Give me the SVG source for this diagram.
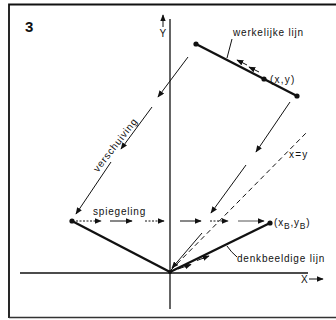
<svg xmlns="http://www.w3.org/2000/svg" width="336" height="320" viewBox="0 0 336 320">
<defs>
<style>
text{font-family:"Liberation Sans",Arial,sans-serif;fill:#111;font-size:10px;letter-spacing:0.8px}
.thin{stroke:#111;stroke-width:1;fill:none}
.thick{stroke:#111;stroke-width:2.4;fill:none}
.dot{stroke:#111;stroke-width:1;fill:none;stroke-dasharray:2 1.5}
.dash{stroke:#111;stroke-width:1;fill:none;stroke-dasharray:5 3.5}
.arr{marker-end:url(#ah)}
</style>
<marker id="ah" viewBox="0 0 10 8" refX="9" refY="4" markerWidth="7" markerHeight="5.6" markerUnits="userSpaceOnUse" orient="auto">
<path d="M0,0 L10,4 L0,8 Z" fill="#111"/>
</marker>
</defs>
<rect width="336" height="320" fill="#fff"/>
<g id="frame">
<path d="M9,318 L9,4.5 L336,4.5" fill="none" stroke="#111" stroke-width="1.8"/>
<path d="M9,317.5 L336,317.5" fill="none" stroke="#333" stroke-width="1.5"/>
<text x="25" y="32" style="font-size:15px;font-weight:bold;letter-spacing:0">3</text>
</g>
<g id="axes">
<line class="thin" x1="170" y1="19" x2="170" y2="309" style="stroke-width:1.3"/>
<line class="thin" x1="20" y1="273" x2="308" y2="273" style="stroke-width:1.3"/>
<line class="thin arr" x1="163" y1="27" x2="163" y2="15"/>
<text x="159.5" y="37">Y</text>
<text x="301" y="283">X</text>
<line class="thin arr" x1="309" y1="279" x2="323" y2="279"/>
</g>
<g id="werkelijke-lijn">
<line class="thick" x1="196" y1="44" x2="297" y2="96"/>
<circle cx="196" cy="44" r="2.6" fill="#111"/>
<circle cx="297" cy="96" r="2.6" fill="#111"/>
<circle cx="264" cy="79" r="2.6" fill="#111"/>
<text x="233" y="36">werkelijke lijn</text>
<line class="thin" x1="232" y1="39" x2="227" y2="58"/>
<text x="270" y="83" style="letter-spacing:1.2px">(x,y)</text>
<line class="thin arr" x1="247" y1="65" x2="237" y2="60"/>
<line class="thin arr" x1="259" y1="72" x2="249" y2="67"/>
</g>
<g id="denkbeeldige-lijn">
<line class="thick" x1="72" y1="221" x2="170" y2="272"/>
<line class="thick" x1="170" y1="272" x2="270" y2="223"/>
<circle cx="72" cy="221" r="2.6" fill="#111"/>
<circle cx="270" cy="223" r="2.6" fill="#111"/>
<circle cx="170" cy="272" r="2" fill="#111"/>
<text x="274" y="226">(x<tspan dy="3" style="font-size:8.5px">B</tspan><tspan dy="-3">,y</tspan><tspan dy="3" style="font-size:8.5px">B</tspan><tspan dy="-3">)</tspan></text>
<path class="thin" d="M227,246 Q231,252 237,257"/>
<text x="237" y="262">denkbeeldige lijn</text>
<line class="thin arr" x1="178" y1="269" x2="191" y2="264.5"/>
<line class="thin arr" x1="197" y1="260.5" x2="209" y2="256"/>
</g>
<g id="x-is-y">
<line class="dash" x1="171" y1="270" x2="308" y2="131"/>
<text x="289" y="158" style="letter-spacing:1.2px">x=y</text>
</g>
<g id="connectors">
<line class="thin arr" x1="188" y1="57" x2="158" y2="97"/>
<line class="thin arr" x1="152" y1="107" x2="121" y2="149"/>
<line class="thin arr" x1="111" y1="162" x2="76" y2="214"/>
<line class="thin arr" x1="290" y1="102" x2="256" y2="152"/>
<line class="thin arr" x1="246" y1="165" x2="211" y2="213"/>
<line class="thin arr" x1="202" y1="233" x2="172" y2="268"/>
<text transform="translate(118,147) rotate(-52)" text-anchor="middle">verschuiving</text>
<line class="dot arr" x1="76" y1="221" x2="101" y2="221"/>
<line class="thin arr" x1="110" y1="221" x2="132" y2="221"/>
<line class="dot arr" x1="145" y1="221" x2="164" y2="221"/>
<line class="thin arr" x1="180" y1="221" x2="201" y2="221"/>
<line class="dot arr" x1="210" y1="221" x2="228" y2="221"/>
<line class="thin arr" x1="238" y1="221" x2="264" y2="221" style="stroke:#555"/>
<text x="93" y="215">spiegeling</text>
</g>
</svg>
